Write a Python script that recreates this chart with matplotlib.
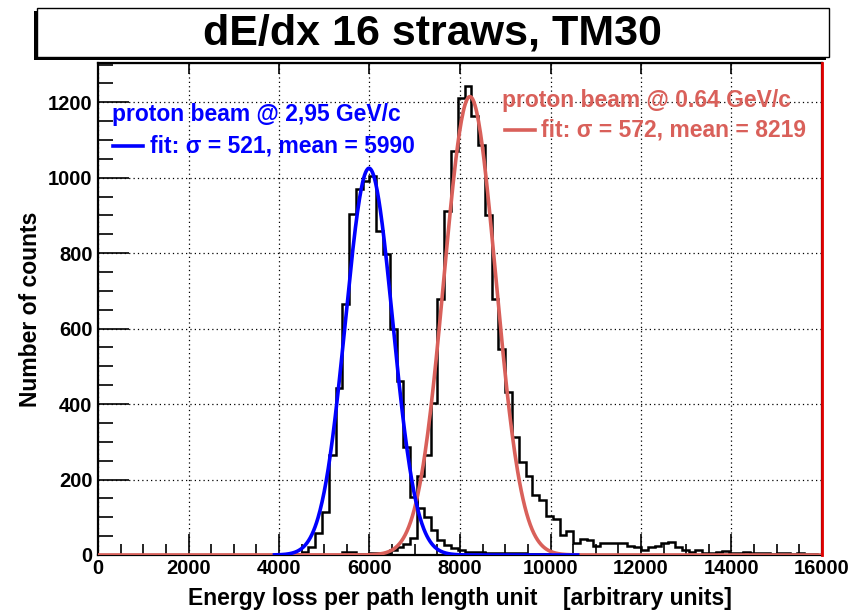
import numpy as np
import matplotlib
matplotlib.use("Agg")
import matplotlib.pyplot as plt
from matplotlib.patches import Rectangle
from matplotlib.ticker import MultipleLocator

plt.rcParams['font.family'] = ['Liberation Sans', 'DejaVu Sans']
plt.rcParams['font.weight'] = 'bold'

# ---------------- data ----------------
bin_width = 150
# histogram of the 2.95 GeV/c beam (first bin starts at h1_start)
h1_start = 4350
h1_counts = [3, 9, 22, 58, 115, 265, 442, 666, 904, 970, 990, 1005, 860, 797,
             600, 460, 287, 155, 124, 102, 66, 40, 27, 18, 12, 9, 8, 7, 6, 6,
             5, 5, 4, 4, 3, 3, 2, 2, 2, 1, 1]
# histogram of the 0.64 GeV/c beam
h2_start = 5400
h2_counts = [8, 8, 3, 3, 4, 4, 6, 12, 22, 30, 44, 210, 265, 402, 678, 911,
             1072, 1211, 1242, 1164, 1087, 902, 678, 547, 433, 312, 247, 210,
             160, 146, 104, 95, 53, 64, 33, 42, 40, 24, 33, 33, 33, 31, 24,
             20, 13, 20, 24, 31, 35, 20, 13, 9, 12, 6, 6, 8, 10, 5, 4, 7, 5,
             4, 6, 3, 5, 4, 3, 5, 3, 2]
# gaussian fits
fit1_amp, fit1_mean, fit1_sigma, fit1_range = 1025, 5990, 521, (3900, 10600)
fit2_amp, fit2_mean, fit2_sigma, fit2_range = 1215, 8219, 572, (0, 16000)

title = "dE/dx 16 straws, TM30"
xlabel = "Energy loss per path length unit    [arbitrary units]"
ylabel = "Number of counts"
leg1 = ["proton beam @ 2,95 GeV/c", "fit: \u03c3 = 521, mean = 5990"]
leg2 = ["proton beam @ 0.64 GeV/c", "fit: \u03c3 = 572, mean = 8219"]

BLUE = "#0000ff"
RED = "#d9605a"

# ---------------- figure ----------------
W, H = 861, 614
fig = plt.figure(figsize=(W / 100, H / 100), dpi=100)
ax_l, ax_r, ax_t, ax_b = 98, 822, 63, 555
ax = fig.add_axes([ax_l / W, 1 - ax_b / H, (ax_r - ax_l) / W, (ax_b - ax_t) / H])

ymax = 1304
ax.set_xlim(0, 16000)
ax.set_ylim(0, ymax)


def step_hist(start, counts):
    edges = start + bin_width * np.arange(len(counts) + 1)
    xs = np.repeat(edges, 2)[1:-1]
    ys = np.repeat(np.asarray(counts, float), 2)
    xs = np.concatenate([[edges[0]], xs, [edges[-1]]])
    ys = np.concatenate([[0], ys, [0]])
    return xs, ys


x1, y1 = step_hist(h1_start, h1_counts)
x2, y2 = step_hist(h2_start, h2_counts)
ax.plot(x1, y1, color="black", lw=1.8, zorder=3, solid_joinstyle="miter")
ax.plot(x2, y2, color="black", lw=1.8, zorder=3, solid_joinstyle="miter")

xf2 = np.linspace(*fit2_range, 800)
ax.plot(xf2, fit2_amp * np.exp(-(xf2 - fit2_mean) ** 2 / (2 * fit2_sigma ** 2)),
        color=RED, lw=2.6, zorder=4)
xf1 = np.linspace(*fit1_range, 600)
ax.plot(xf1, fit1_amp * np.exp(-(xf1 - fit1_mean) ** 2 / (2 * fit1_sigma ** 2)),
        color=BLUE, lw=2.6, zorder=5)

# red vertical line at right edge
ax.axvline(16000, color="#e00000", lw=2.0, zorder=6, clip_on=False)

# grid
ax.grid(True, which="major", color="black", linestyle=(0, (1, 2.5)), lw=0.9)
ax.set_axisbelow(True)

# ticks
ax.xaxis.set_major_locator(MultipleLocator(2000))
ax.xaxis.set_minor_locator(MultipleLocator(500))
ax.yaxis.set_major_locator(MultipleLocator(200))
ax.yaxis.set_minor_locator(MultipleLocator(50))
ax.tick_params(axis="both", which="both", direction="in", top=False, right=False,
               labelsize=14.5, width=1.2, color="black")
ax.tick_params(axis="x", which="major", length=15, pad=3)
ax.tick_params(axis="x", which="minor", length=8)
ax.tick_params(axis="y", which="major", length=22, pad=4)
ax.tick_params(axis="y", which="minor", length=11)
for lab in ax.get_xticklabels() + ax.get_yticklabels():
    lab.set_fontweight("bold")
for s in ax.spines.values():
    s.set_linewidth(1.6)

# short major ticks on the top edge
top = ax.secondary_xaxis("top")
top.xaxis.set_major_locator(MultipleLocator(2000))
top.tick_params(direction="in", length=8, width=1.2, labeltop=False)
top.set_xticklabels([])

ax.set_xlabel(xlabel, fontsize=16.5, fontweight="bold", labelpad=6)
ax.set_ylabel(ylabel, fontsize=16.5, fontweight="bold", labelpad=4)

# legends (axes-fraction coordinates derived from pixels)
def px(xp, yp):
    return ((xp - ax_l) / (ax_r - ax_l), (ax_b - yp) / (ax_b - ax_t))

LFS = 16.5
tx, ty = px(112, 115)
ax.text(tx, ty, leg1[0], transform=ax.transAxes, color=BLUE, fontsize=LFS,
        fontweight="bold", va="center", ha="left", zorder=7)
lx0, ly = px(113, 146)
lx1, _ = px(143, 146)
ax.plot([lx0, lx1], [ly, ly], transform=ax.transAxes, color=BLUE, lw=2.6, zorder=7)
tx, ty = px(150, 146)
ax.text(tx, ty, leg1[1], transform=ax.transAxes, color=BLUE, fontsize=LFS,
        fontweight="bold", va="center", ha="left", zorder=7)

tx, ty = px(502, 100)
ax.text(tx, ty, leg2[0], transform=ax.transAxes, color=RED, fontsize=LFS,
        fontweight="bold", va="center", ha="left", zorder=7)
lx0, ly = px(505, 130)
lx1, _ = px(535, 130)
ax.plot([lx0, lx1], [ly, ly], transform=ax.transAxes, color=RED, lw=2.6, zorder=7)
tx, ty = px(541, 130)
ax.text(tx, ty, leg2[1], transform=ax.transAxes, color=RED, fontsize=LFS,
        fontweight="bold", va="center", ha="left", zorder=7)

# title box with shadow
bx0, bx1, by0, by1 = 37, 829, 8, 57
shadow = Rectangle(((bx0 - 3) / W, 1 - (by1 + 3) / H), (bx1 - bx0) / W, (by1 - by0) / H,
                   transform=fig.transFigure, facecolor="black", edgecolor="none")
fig.add_artist(shadow)
box = Rectangle((bx0 / W, 1 - by1 / H), (bx1 - bx0) / W, (by1 - by0) / H,
                transform=fig.transFigure, facecolor="white", edgecolor="black", lw=1.0)
fig.add_artist(box)
fig.text((bx0 + bx1) / 2 / W - 0.5 / W, 1 - (by0 + by1 + 2) / 2 / H, title,
         ha="center", va="center", fontsize=31, fontweight="bold")

fig.savefig("out.png", dpi=100)
